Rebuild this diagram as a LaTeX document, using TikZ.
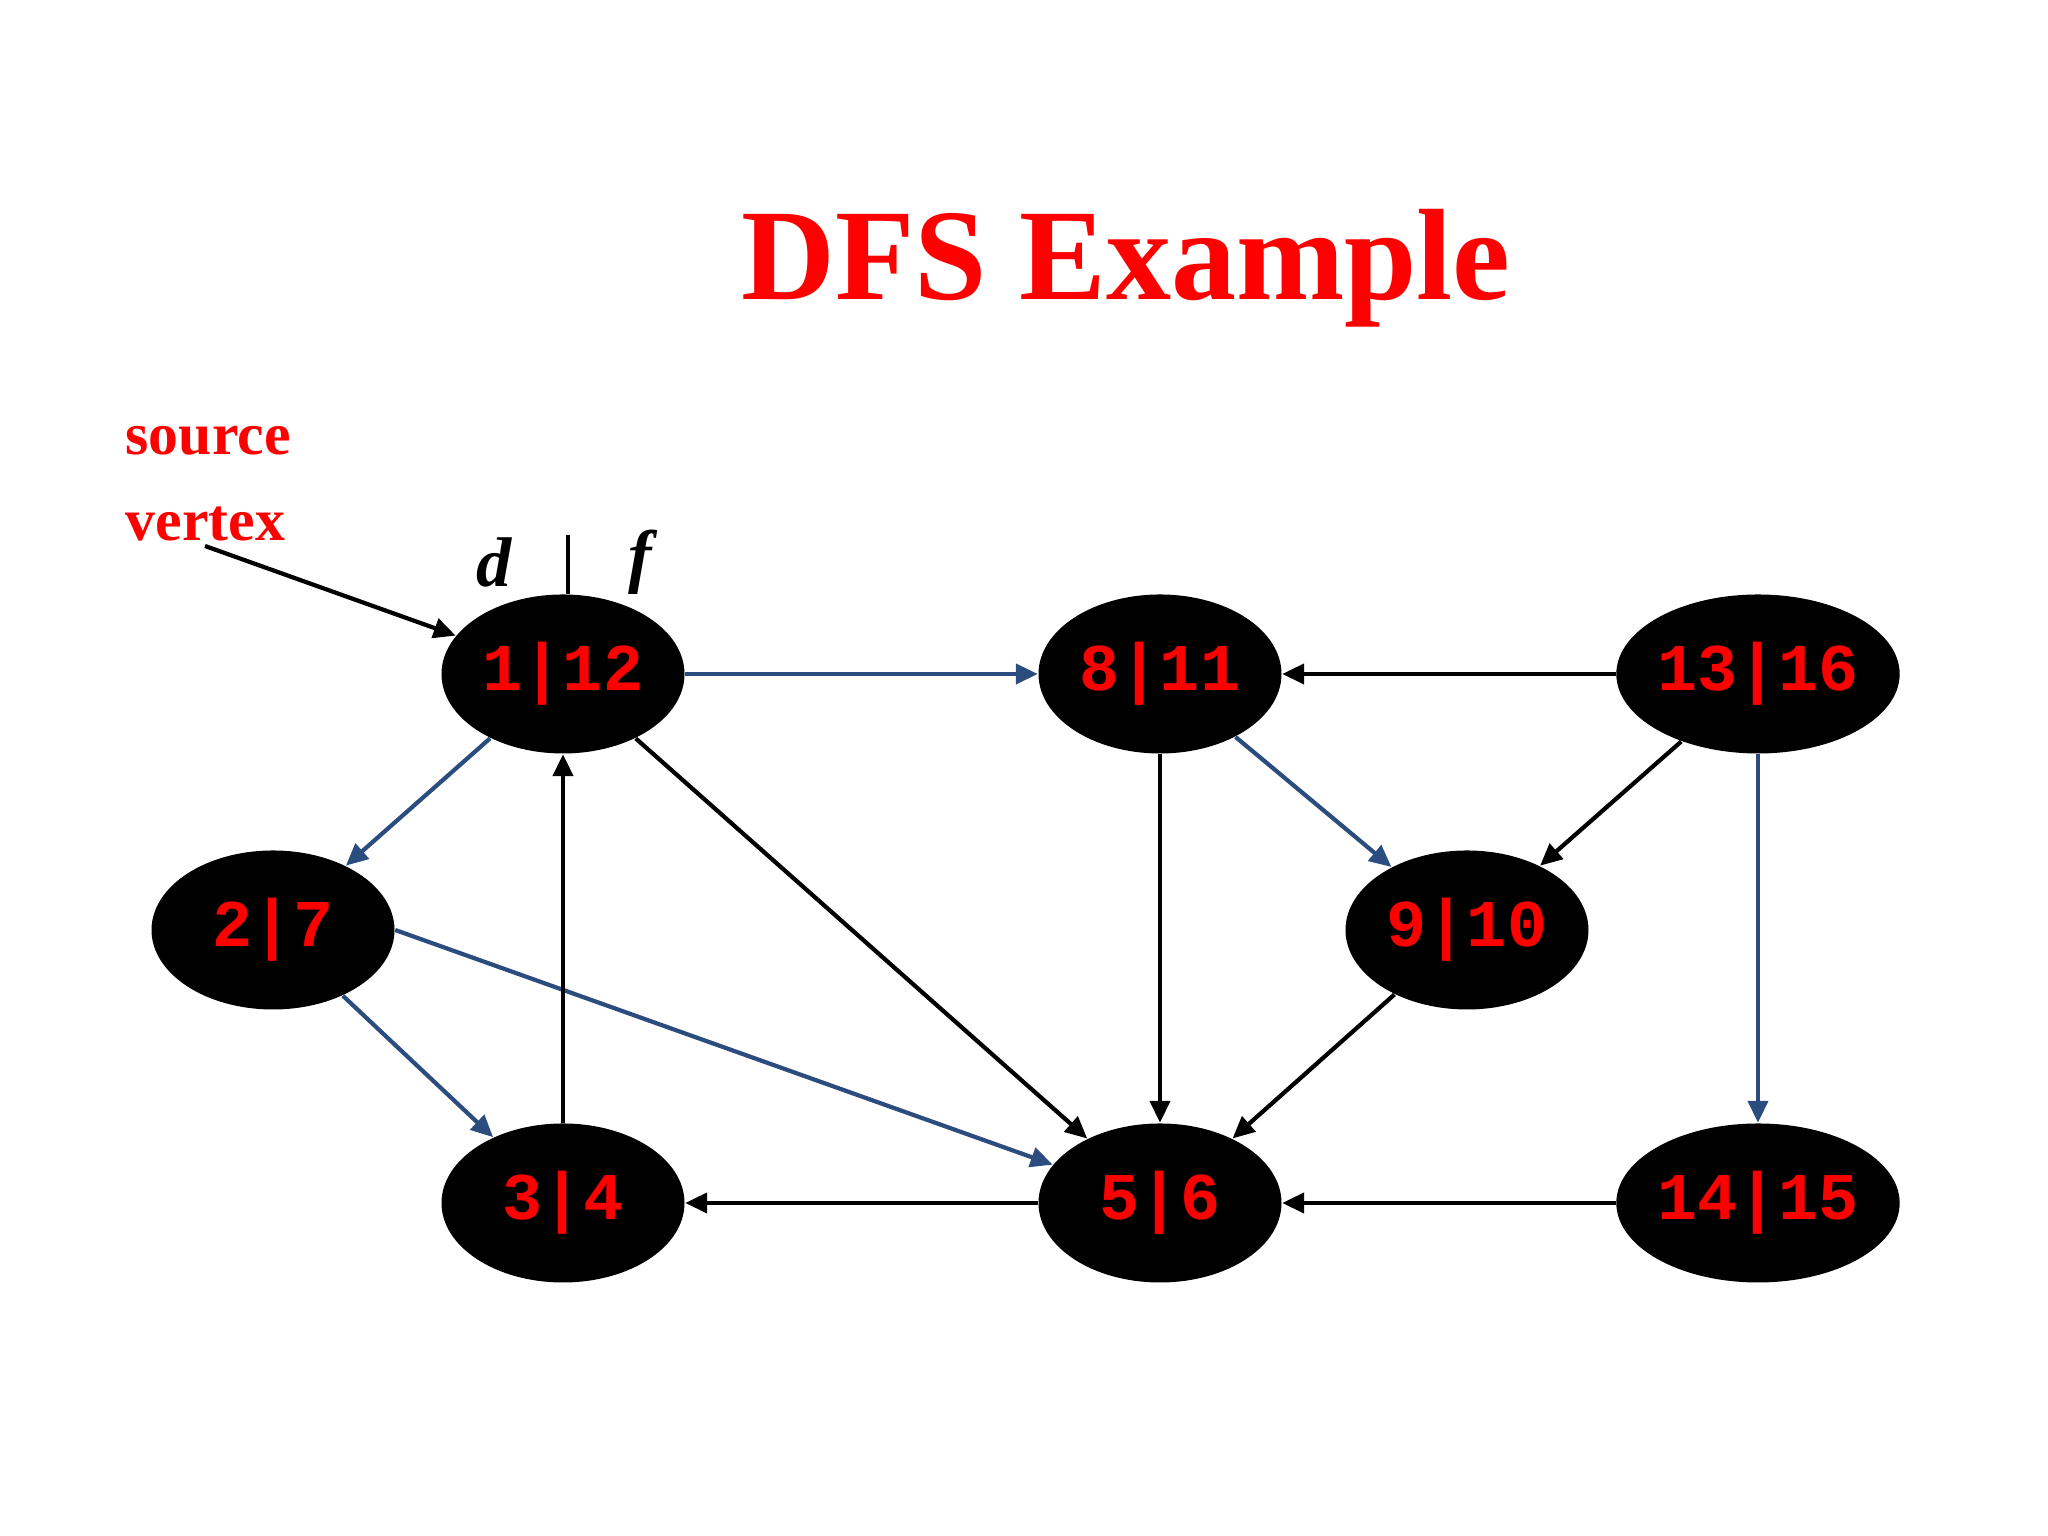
\documentclass[tikz,border=0pt]{standalone}
\usepackage{fontspec}
\setmainfont{Liberation Serif}
\newfontfamily\monof{Liberation Mono}
\usetikzlibrary{shapes.geometric,arrows.meta}
\definecolor{eblue}{HTML}{2B4C7E}
\definecolor{tred}{HTML}{FF0000}
\tikzset{
 vtx/.style={ellipse,fill=black,minimum width=2.43cm,minimum height=1.59cm,inner sep=0pt,text=tred,font=\monof\bfseries\fontsize{19}{19}\selectfont},
 ed/.style={line width=1.2pt,-{Triangle[length=2.2mm,width=2mm]}},
 be/.style={ed,draw=eblue},
 ke/.style={ed,draw=black},
}
\begin{document}
\begin{tikzpicture}
\useasboundingbox (0,0) rectangle (20.48,15.36);
\node[font=\bfseries\fontsize{37}{37}\selectfont,text=tred] (title) at (11.26,12.68) {DFS Example};
\node[font=\bfseries\fontsize{17}{17}\selectfont,text=tred,anchor=west,inner sep=0pt] (src1) at (1.25,10.95) {source};
\node[font=\bfseries\fontsize{17}{17}\selectfont,text=tred,anchor=west,inner sep=0pt] (src2) at (1.25,10.12) {vertex};
\node[font=\bfseries\itshape\fontsize{20}{20}\selectfont] (d) at (4.94,9.74) {d};
\node[font=\bfseries\itshape\fontsize{20}{20}\selectfont] (f) at (6.40,9.74) {f};
\coordinate (lt) at (5.68,10.01);
\coordinate (lb) at (5.68,9.42);
\draw[line width=1.2pt] (lt) -- (lb);
\node[vtx] (n1) at (5.63,8.62) {1|12};
\node[vtx] (n8) at (11.60,8.62) {8|11};
\node[vtx] (n13) at (17.58,8.62) {13|16};
\node[vtx] (n2) at (2.73,6.06) {2|7};
\node[vtx] (n9) at (14.67,6.06) {9|10};
\node[vtx] (n3) at (5.63,3.33) {3|4};
\node[vtx] (n5) at (11.60,3.33) {5|6};
\node[vtx] (n14) at (17.58,3.33) {14|15};
\coordinate (s) at (2.05,9.90);
\draw[ke] (s) -- (n1);
\draw[be] (n1) -- (n8);
\draw[be] (n1) -- (n2);
\draw[be] (n8) -- (n9);
\draw[be] (n2) -- (n3);
\draw[be] (n2.east) -- (n5);
\draw[be] (n13) -- (n14);
\draw[ke] (n13) -- (n8);
\draw[ke] (n13) -- (n9);
\draw[ke] (n1) -- (n5);
\draw[ke] (n8) -- (n5);
\draw[ke] (n9) -- (n5);
\draw[ke] (n3) -- (n1);
\draw[ke] (n5) -- (n3);
\draw[ke] (n14) -- (n5);
\end{tikzpicture}
\end{document}
